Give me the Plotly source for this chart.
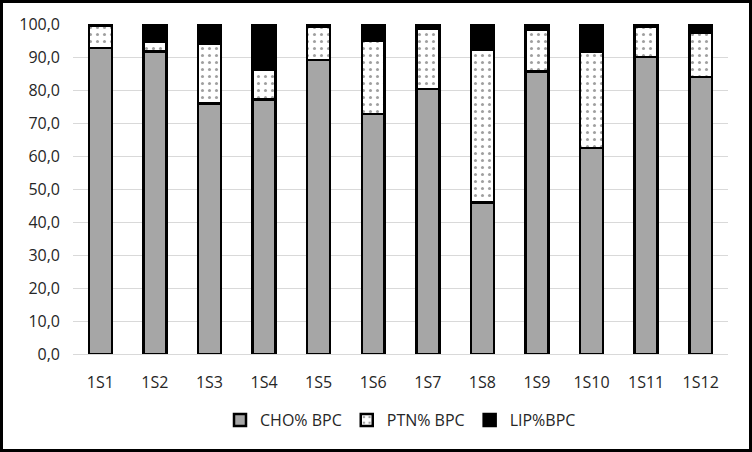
import plotly.graph_objects as go

samples = ["1S1", "1S2", "1S3", "1S4", "1S5", "1S6", "1S7", "1S8", "1S9", "1S10", "1S11", "1S12"]
cho = [92.8, 91.6, 75.9, 77.1, 89.1, 72.8, 80.3, 45.9, 85.6, 62.5, 90.0, 84.0]
ptn = [6.7, 2.9, 18.0, 9.0, 10.1, 22.2, 18.3, 46.3, 12.7, 29.1, 9.2, 13.3]
lip = [0.5, 5.5, 6.1, 13.9, 0.8, 5.0, 1.4, 7.8, 1.7, 8.4, 0.8, 2.7]

W, H = 752, 452
L, R, T, B = 73, 24, 24, 98
pw, ph = W - L - R, H - T - B

fig = go.Figure()
line = dict(color="black", width=2.5)
fig.add_trace(go.Bar(x=samples, y=cho, name="CHO% BPC",
                     marker=dict(color="#a6a6a6", line=line)))
fig.add_trace(go.Bar(x=samples, y=ptn, name="PTN% BPC",
                     marker=dict(color="white", line=line,
                                 pattern=dict(shape=".", fgcolor="#404040", bgcolor="white",
                                              size=7, solidity=0.15))))
fig.add_trace(go.Bar(x=samples, y=lip, name="LIP%BPC",
                     marker=dict(color="black", line=line)))

# outer border of the chart
fig.add_shape(type="rect", xref="paper", yref="paper",
              x0=(1.5 - L) / pw, x1=(W - 1.5 - L) / pw,
              y0=(H - 1.5 - (T + ph)) / -ph, y1=(T - 1.5) / ph + 1,
              line=dict(color="black", width=3))

fig.update_layout(
    width=W, height=H,
    barmode="stack", bargap=0.58,
    separators=",.",
    margin=dict(l=L, r=R, t=T, b=B),
    plot_bgcolor="white", paper_bgcolor="white",
    font=dict(family="Open Sans", size=16, color="#262626"),
    showlegend=True,
    legend=dict(orientation="h", x=0.5, xanchor="center", y=-0.2, yanchor="middle",
                font=dict(size=16), traceorder="normal", itemwidth=30),
)
fig.update_yaxes(range=[0, 100], dtick=10, tickformat=".1f", showgrid=True,
                 gridcolor="#d9d9d9", gridwidth=1, zeroline=False, showline=False,
                 ticks="", ticklabelstandoff=12)
fig.update_xaxes(showgrid=False, showline=True, linecolor="#d9d9d9", linewidth=1,
                 ticks="", ticklabelstandoff=14)

fig.write_html("out.html", config={"displayModeBar": False},
               post_script="document.body.style.margin='0';")
